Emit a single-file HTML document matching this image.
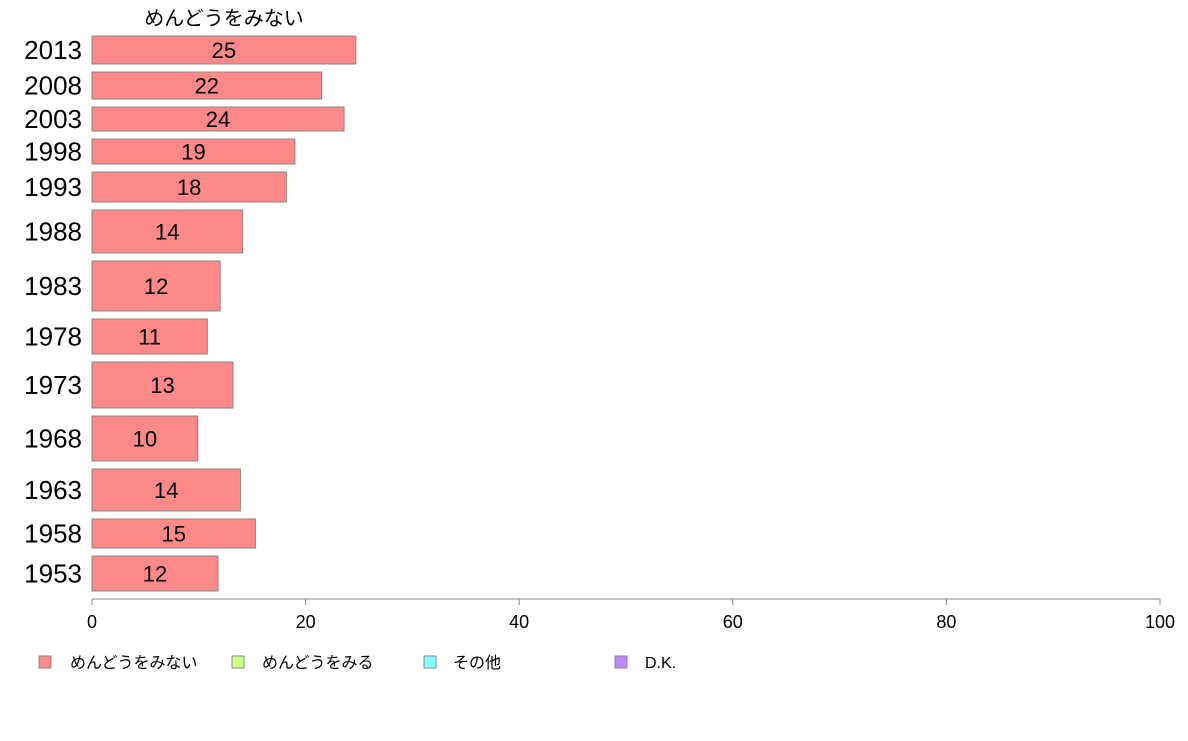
<!DOCTYPE html>
<html><head><meta charset="utf-8">
<style>
body{margin:0;background:#fff;width:1188px;height:736px;overflow:hidden;font-family:"Liberation Sans","Noto Sans CJK JP",sans-serif;}
</style></head>
<body>
<svg id="chart" width="1188" height="736" xmlns="http://www.w3.org/2000/svg" font-family="Liberation Sans, Noto Sans CJK JP, sans-serif">
<text x="224" y="25" font-size="20" text-anchor="middle" fill="#000">めんどうをみない</text>
<g id="bars"></g>
<line x1="92" y1="599" x2="1160" y2="599" stroke="#888" stroke-width="1"/>
<g id="xticks"></g>
<g font-size="16">
<rect x="39" y="656" width="12" height="12" fill="#ff8888" stroke="#888"/>
<text x="70" y="668">めんどうをみない</text>
<rect x="232" y="656" width="12" height="12" fill="#ccff88" stroke="#888"/>
<text x="262" y="668">めんどうをみる</text>
<rect x="424" y="656" width="12" height="12" fill="#88ffff" stroke="#888"/>
<text x="453" y="668">その他</text>
<rect x="615" y="656" width="12" height="12" fill="#bb88ff" stroke="#888"/>
<text x="645" y="668">D.K.</text>
</g>
</svg>
<script>
const categories=["2013","2008","2003","1998","1993","1988","1983","1978","1973","1968","1963","1958","1953"];
const values=[24.7,21.5,23.6,19.0,18.2,14.1,12.0,10.8,13.2,9.9,13.9,15.3,11.8];
const valueLabels=["25","22","24","19","18","14","12","11","13","10","14","15","12"];
const sampleWeights=[28,27,24,25,30,43,50,35,46,45,42,29,35];
const tickValues=[0,20,40,60,80,100];
const NS="http://www.w3.org/2000/svg";
const x0=92,x1=1160,top0=36,gap=8;
const xs=v=>x0+(x1-x0)*v/100;
const bars=document.getElementById('bars');
let y=top0;
categories.forEach((c,i)=>{
  const h=sampleWeights[i];
  const r=document.createElementNS(NS,'rect');
  
  
  r.setAttribute('x',xs(0));r.setAttribute('y',y);
  r.setAttribute('width',xs(values[i])-xs(0));r.setAttribute('height',h);
  r.setAttribute('fill','#ff8888');r.setAttribute('stroke','#888');r.setAttribute('stroke-width','1');
  bars.appendChild(r);
  const t=document.createElementNS(NS,'text');
  
  
  t.setAttribute('x',(xs(0)+xs(values[i]))/2);t.setAttribute('y',y+h/2+8);
  t.setAttribute('text-anchor','middle');t.setAttribute('font-size','22');
  t.textContent=valueLabels[i];bars.appendChild(t);
  const l=document.createElementNS(NS,'text');
  
  
  l.setAttribute('x',82);l.setAttribute('y',y+h/2+9);
  l.setAttribute('text-anchor','end');l.setAttribute('font-size','26');
  l.textContent=c;bars.appendChild(l);
  y+=h+gap;
});
const xt=document.getElementById('xticks');
tickValues.forEach(v=>{
  const ln=document.createElementNS(NS,'line');
  
  
  ln.setAttribute('x1',xs(v));ln.setAttribute('x2',xs(v));ln.setAttribute('y1',599);ln.setAttribute('y2',605);
  ln.setAttribute('stroke','#888');xt.appendChild(ln);
  const t=document.createElementNS(NS,'text');
  
  
  t.setAttribute('x',xs(v));t.setAttribute('y',628);t.setAttribute('text-anchor','middle');t.setAttribute('font-size','18');
  t.textContent=v;xt.appendChild(t);
});
</script>
</body></html>
